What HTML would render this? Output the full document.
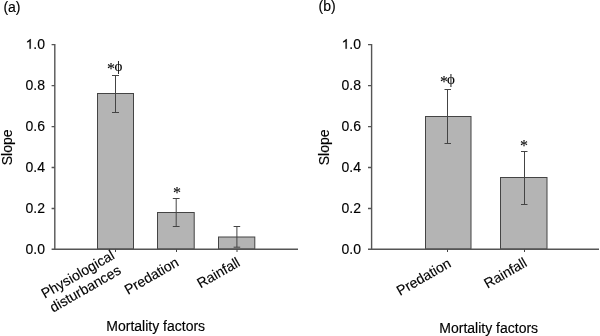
<!DOCTYPE html>
<html><head><meta charset="utf-8"><style>
html,body{margin:0;padding:0;background:#fff;width:600px;height:336px;overflow:hidden}
svg{display:block;will-change:transform}
text{font-family:"Liberation Sans",sans-serif;fill:#000;stroke:#000;stroke-width:0.15}
.s{font-family:"Liberation Serif",serif;stroke-width:0.1}
</style></head><body>
<svg width="600" height="336" viewBox="0 0 600 336">
<defs><path id="one" d="M763 0H583V1098Q518 1038 412.5 979Q307 920 223 890V1057Q374 1124 485.5 1219.5Q597 1315 645 1409H763Z"/></defs>
<use href="#one" fill="#000" stroke="#000" stroke-width="22" transform="translate(25.54,48.7) scale(0.0068359,-0.0068359)"/>
<use href="#one" fill="#000" stroke="#000" stroke-width="22" transform="translate(341.54,48.7) scale(0.0068359,-0.0068359)"/>
<!-- panel a -->
<text x="3.4" y="12" font-size="14">(a)</text>
<g font-size="14" text-anchor="end">
<text x="45" y="48.7">.0</text>
<text x="45" y="89.7">0.8</text>
<text x="45" y="130.7">0.6</text>
<text x="45" y="171.7">0.4</text>
<text x="45" y="212.7">0.2</text>
<text x="45" y="253.7">0.0</text>
</g>
<text transform="translate(11.7,147.4) rotate(-90)" font-size="14" text-anchor="middle">Slope</text>
<g fill="#b4b4b4" stroke="#444" stroke-width="1">
<rect x="97.5" y="93.5" width="36" height="155.5"/>
<rect x="157.5" y="212.5" width="36.7" height="36.5"/>
<rect x="218.5" y="237" width="36.3" height="12"/>
</g>
<g stroke="#444" stroke-width="1" fill="none">
<path stroke="#555" stroke-width="1.4" d="M54.8 44 V249.3 M51.6 44.6 H54.8 M51.6 85.6 H54.8 M51.6 126.6 H54.8 M51.6 167.5 H54.8 M51.6 208.5 H54.8 M51.6 249.3 H298"/>
<path d="M115.5 249.5 V252 M176.5 249.5 V252 M237 249.5 V252"/>
<path d="M115.5 75.5 V112.5 M112 75.5 H119 M112 112.5 H119"/>
<path d="M176.2 198.5 V226.5 M172.8 198.5 H179.6 M172.8 226.5 H179.6"/>
<path d="M236.9 226.5 V247.2 M233.6 226.5 H240.2 M233.6 247.2 H240.2"/>
</g>
<text class="s" x="107" y="73.9" font-size="16">*</text>
<text class="s" x="114.5" y="71.1" font-size="15">ϕ</text>
<text class="s" x="173" y="197.5" font-size="16">*</text>
<g font-size="14" text-anchor="end">
<text transform="translate(115.5,258) rotate(-30)">Physiological</text>
<text transform="translate(122,273) rotate(-30)">disturbances</text>
<text transform="translate(179.8,265) rotate(-30)">Predation</text>
<text transform="translate(241.05,265.2) rotate(-30)">Rainfall</text>
</g>
<text x="155.7" y="330.5" font-size="14" text-anchor="middle">Mortality factors</text>

<!-- panel b -->
<text x="318.5" y="11.1" font-size="14">(b)</text>
<g font-size="14" text-anchor="end">
<text x="361" y="48.7">.0</text>
<text x="361" y="89.7">0.8</text>
<text x="361" y="130.7">0.6</text>
<text x="361" y="171.7">0.4</text>
<text x="361" y="212.7">0.2</text>
<text x="361" y="253.7">0.0</text>
</g>
<text transform="translate(329.1,147.4) rotate(-90)" font-size="14" text-anchor="middle">Slope</text>
<g fill="#b4b4b4" stroke="#444" stroke-width="1">
<rect x="425.5" y="116.5" width="45.5" height="132.5"/>
<rect x="500.5" y="177.5" width="46.5" height="71.5"/>
</g>
<g stroke="#444" stroke-width="1" fill="none">
<path stroke="#555" stroke-width="1.4" d="M371.6 44 V249.3 M368 44.6 H371.6 M368 85.6 H371.6 M368 126.6 H371.6 M368 167.5 H371.6 M368 208.5 H371.6 M368 249.3 H599"/>
<path d="M447.5 249.5 V252 M524.5 249.5 V252"/>
<path d="M447.5 89.5 V143.5 M444.5 89.5 H451 M444.5 143.5 H451"/>
<path d="M524.5 151.5 V204.5 M521 151.5 H527.5 M521 204.5 H527.5"/>
</g>
<text class="s" x="440" y="87" font-size="16">*</text>
<text class="s" x="447" y="84.4" font-size="15">ϕ</text>
<text class="s" x="520" y="150.8" font-size="16">*</text>
<g font-size="14" text-anchor="end">
<text transform="translate(452,266) rotate(-30)">Predation</text>
<text transform="translate(528,265.5) rotate(-30)">Rainfall</text>
</g>
<text x="488.7" y="332.8" font-size="14" text-anchor="middle">Mortality factors</text>
</svg>
</body></html>
